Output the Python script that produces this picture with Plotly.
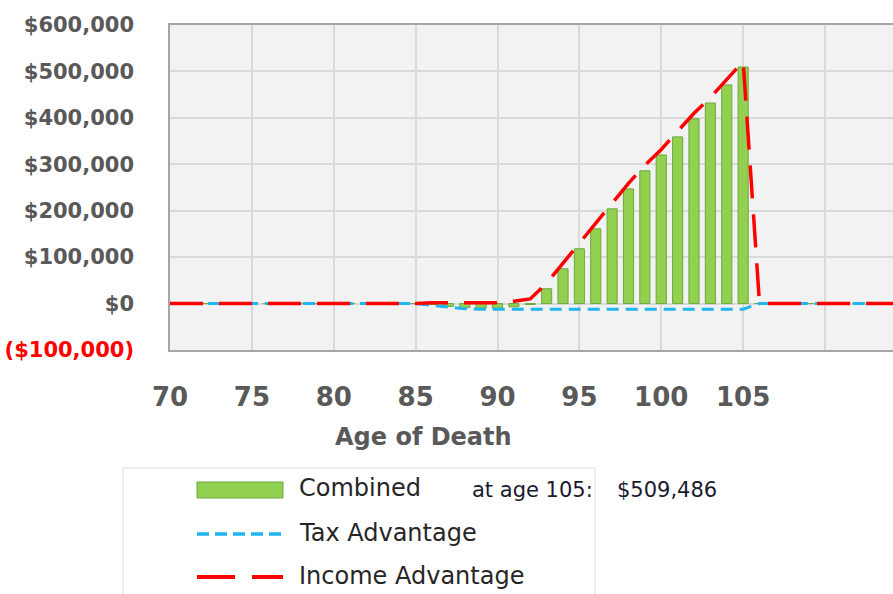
import plotly.graph_objects as go

# ---------------- data ----------------
ages = list(range(70, 116))
combined = ([0] * 16 +                      # 70-85
            [-2000, -6000, -9000, -10000, -10000, -7000, -2000,   # 86-92
             32000, 75000, 118000, 161000, 204000, 247000, 286000,  # 93-99
             320000, 359000, 398000, 432000, 471000, 509486] +     # 100-105
            [0] * 10)                       # 106-115
tax_adv = ([0] * 16 +
           [-4000, -8000, -11000] + [-12000] * 17 +   # 86-105
           [0] * 10)
income_adv = ([0] * 16 +
              [2000, 2000, 2000, 2000, 2000, 5000, 10000,
               44000, 87000, 130000, 173000, 216000, 259000, 298000,
               332000, 371000, 410000, 444000, 483000, 521486] +
              [0] * 10)

x_tickvals = [70, 75, 80, 85, 90, 95, 100, 105, 110]
x_ticktext = ["70", "75", "80", "85", "90", "95", "100", "105", ""]
y_tickvals = [-100000, 0, 100000, 200000, 300000, 400000, 500000, 600000]
y_ticktext = ['<span style="color:#FF0000">($100,000)</span>', "$0", "$100,000",
              "$200,000", "$300,000", "$400,000", "$500,000", "$600,000"]

legend_labels = ["Combined", "Tax Advantage", "Income Advantage"]
note_label = "at age 105:"
note_value = "$509,486"

# ---------------- layout geometry ----------------
W, H = 893, 594
L, R, T = 170, 0, 25
B = H - 350
PW, PH = W - L - R, H - T - B


def px(x):
    return (x - L) / PW


def py(y):
    return (H - B - y) / PH


GREEN = "#92D050"
BLUE = "#1FB5EE"
RED = "#FF0000"
GRAY = "#595959"
FONT = "DejaVu Sans"

fig = go.Figure()
fig.add_trace(go.Bar(x=ages, y=combined, width=0.62, name=legend_labels[0],
                     marker=dict(color=GREEN, line=dict(color="#6FA83F", width=1))))
fig.add_trace(go.Scatter(x=ages, y=tax_adv, mode="lines", name=legend_labels[1],
                         line=dict(color=BLUE, width=3, dash="12px,7px")))
fig.add_trace(go.Scatter(x=ages, y=income_adv, mode="lines", name=legend_labels[2],
                         line=dict(color=RED, width=3.5, dash="33px,16px")))

shapes = []
annotations = []

# legend box
shapes.append(dict(type="rect", xref="paper", yref="paper",
                   x0=px(123), x1=px(595), y0=py(640), y1=py(468),
                   line=dict(color="#D9D9D9", width=1), fillcolor="white", layer="below"))
# legend symbols
shapes.append(dict(type="rect", xref="paper", yref="paper",
                   x0=px(197), x1=px(283), y0=py(498), y1=py(482),
                   line=dict(color="#6FA83F", width=1), fillcolor=GREEN))
shapes.append(dict(type="line", xref="paper", yref="paper",
                   x0=px(197), x1=px(283), y0=py(534), y1=py(534),
                   line=dict(color=BLUE, width=3.5, dash="12px,6px")))
shapes.append(dict(type="line", xref="paper", yref="paper",
                   x0=px(197), x1=px(283), y0=py(577), y1=py(577),
                   line=dict(color=RED, width=4, dash="38px,17px")))

for lab, yy in zip(legend_labels, [488, 533, 576]):
    annotations.append(dict(text=lab, xref="paper", yref="paper", x=px(297), y=py(yy),
                            xanchor="left", yanchor="middle", showarrow=False,
                            font=dict(family=FONT, size=24, color="#262626")))
annotations.append(dict(text=note_label, xref="paper", yref="paper", x=px(470), y=py(490),
                        xanchor="left", yanchor="middle", showarrow=False,
                        font=dict(family=FONT, size=21, color="#1a1a2e")))
annotations.append(dict(text=note_value, xref="paper", yref="paper", x=px(615), y=py(490),
                        xanchor="left", yanchor="middle", showarrow=False,
                        font=dict(family=FONT, size=21, color="#1a1a2e")))
annotations.append(dict(text="<b>Age of Death</b>", xref="paper", yref="paper", x=px(423), y=py(437),
                        xanchor="center", yanchor="middle", showarrow=False,
                        font=dict(family=FONT, size=24, color=GRAY)))

fig.update_layout(
    width=W, height=H,
    margin=dict(l=L, r=R, t=T, b=B, pad=0, autoexpand=False),
    paper_bgcolor="white", plot_bgcolor="#F2F2F2",
    showlegend=False,
    bargap=0.4,
    shapes=shapes, annotations=annotations,
    font=dict(family=FONT),
)
fig.update_xaxes(range=[70, 70 + PW / 16.375], tickmode="array", automargin=False,
                 tickvals=x_tickvals, ticktext=x_ticktext,
                 showgrid=True, gridcolor="#D9D9D9", gridwidth=1.5,
                 showline=True, linecolor="#A6A6A6", linewidth=1.5, mirror=True,
                 ticks="", ticklabelstandoff=23, zeroline=False,
                 tickfont=dict(family=FONT, size=26, color=GRAY, weight="bold"))
fig.update_yaxes(range=[-100000, 600000], tickmode="array", automargin=False,
                 tickvals=y_tickvals, ticktext=y_ticktext,
                 showgrid=True, gridcolor="#D9D9D9", gridwidth=1.5,
                 showline=True, linecolor="#A6A6A6", linewidth=1.5, mirror=False,
                 ticks="", ticklabelstandoff=30, zeroline=False,
                 tickfont=dict(family=FONT, size=21, color=GRAY, weight="bold"))

fig.write_html("out.html", config={"displayModeBar": False},
               post_script="document.body.style.margin='0';")
